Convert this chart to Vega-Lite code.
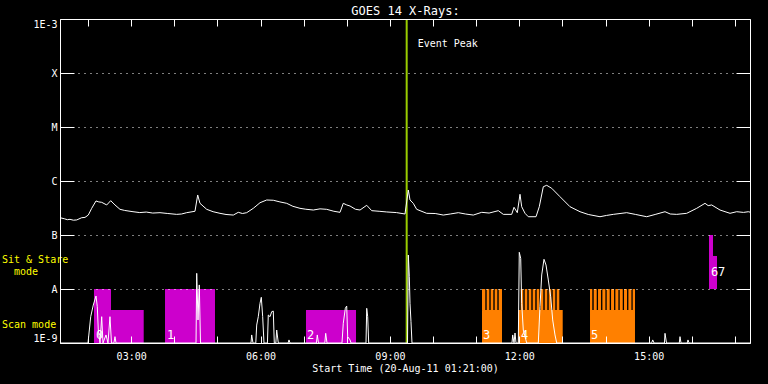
{
  "$schema": "https://vega.github.io/schema/vega-lite/v6.json",
  "width": 690,
  "height": 324,
  "autosize": {"type": "none"},
  "padding": {"left": 60, "top": 19, "right": 18, "bottom": 41},
  "background": "black",
  "config": {"view": {"stroke": null}},
  "resolve": {"axis": {"x": "independent", "y": "independent"}},
  "datasets": {
    "long": [
      {"h": 1.35, "flux": 2.09e-7}, {"h": 1.45, "flux": 2.0e-7}, {"h": 1.52, "flux": 1.92e-7}, {"h": 1.582, "flux": 1.95e-7}, {"h": 1.66, "flux": 1.88e-7}, {"h": 1.737, "flux": 1.9e-7},
      {"h": 1.853, "flux": 2.09e-7}, {"h": 1.93, "flux": 2.12e-7}, {"h": 2.006, "flux": 2.34e-7}, {"h": 2.085, "flux": 3.12e-7}, {"h": 2.185, "flux": 4.27e-7},
      {"h": 2.25, "flux": 4.1e-7}, {"h": 2.317, "flux": 4.03e-7}, {"h": 2.433, "flux": 3.6e-7}, {"h": 2.526, "flux": 4.32e-7}, {"h": 2.625, "flux": 3.6e-7},
      {"h": 2.741, "flux": 2.99e-7}, {"h": 2.85, "flux": 2.85e-7}, {"h": 3.043, "flux": 2.7e-7}, {"h": 3.2, "flux": 2.6e-7}, {"h": 3.35, "flux": 2.66e-7}, {"h": 3.5, "flux": 2.55e-7}, {"h": 3.669, "flux": 2.59e-7},
      {"h": 3.85, "flux": 2.5e-7}, {"h": 4.056, "flux": 2.41e-7}, {"h": 4.17, "flux": 2.45e-7}, {"h": 4.288, "flux": 2.59e-7}, {"h": 4.48, "flux": 2.75e-7}, {"h": 4.543, "flux": 5.51e-7},
      {"h": 4.596, "flux": 3.86e-7}, {"h": 4.752, "flux": 2.99e-7}, {"h": 4.9, "flux": 2.7e-7}, {"h": 5.06, "flux": 2.52e-7}, {"h": 5.2, "flux": 2.4e-7}, {"h": 5.369, "flux": 2.34e-7},
      {"h": 5.484, "flux": 2.63e-7}, {"h": 5.58, "flux": 2.5e-7}, {"h": 5.679, "flux": 2.59e-7}, {"h": 5.832, "flux": 3.12e-7},
      {"h": 5.988, "flux": 3.96e-7}, {"h": 6.143, "flux": 4.45e-7}, {"h": 6.296, "flux": 4.4e-7}, {"h": 6.45, "flux": 4.1e-7}, {"h": 6.607, "flux": 3.86e-7},
      {"h": 6.75, "flux": 3.4e-7}, {"h": 6.915, "flux": 3.12e-7}, {"h": 7.05, "flux": 3.0e-7}, {"h": 7.224, "flux": 2.9e-7}, {"h": 7.38, "flux": 3.05e-7}, {"h": 7.534, "flux": 2.99e-7}, {"h": 7.7, "flux": 2.75e-7}, {"h": 7.843, "flux": 2.63e-7},
      {"h": 7.919, "flux": 3.86e-7}, {"h": 8.0, "flux": 3.6e-7}, {"h": 8.075, "flux": 3.44e-7}, {"h": 8.2, "flux": 3.0e-7}, {"h": 8.307, "flux": 2.9e-7}, {"h": 8.462, "flux": 3.55e-7},
      {"h": 8.578, "flux": 2.82e-7}, {"h": 8.75, "flux": 2.75e-7}, {"h": 8.926, "flux": 2.67e-7}, {"h": 9.15, "flux": 2.6e-7}, {"h": 9.35, "flux": 2.45e-7}, {"h": 9.427, "flux": 6.81e-7},
      {"h": 9.466, "flux": 4.45e-7}, {"h": 9.542, "flux": 3.86e-7}, {"h": 9.621, "flux": 2.99e-7}, {"h": 9.853, "flux": 2.52e-7},
      {"h": 10.05, "flux": 2.5e-7}, {"h": 10.238, "flux": 2.34e-7}, {"h": 10.4, "flux": 2.45e-7}, {"h": 10.586, "flux": 2.59e-7}, {"h": 10.75, "flux": 2.45e-7}, {"h": 10.934, "flux": 2.34e-7}, {"h": 11.129, "flux": 2.63e-7},
      {"h": 11.3, "flux": 2.55e-7}, {"h": 11.514, "flux": 2.82e-7}, {"h": 11.63, "flux": 2.41e-7}, {"h": 11.824, "flux": 2.41e-7}, {"h": 11.878, "flux": 3.26e-7},
      {"h": 11.954, "flux": 2.59e-7}, {"h": 12.017, "flux": 5.67e-7}, {"h": 12.056, "flux": 3.34e-7}, {"h": 12.133, "flux": 2.52e-7},
      {"h": 12.209, "flux": 2.18e-7}, {"h": 12.388, "flux": 2.18e-7}, {"h": 12.464, "flux": 3.34e-7}, {"h": 12.557, "flux": 7.84e-7},
      {"h": 12.636, "flux": 8.32e-7}, {"h": 12.752, "flux": 7.33e-7}, {"h": 12.944, "flux": 5.12e-7}, {"h": 13.176, "flux": 3.34e-7},
      {"h": 13.408, "flux": 2.7e-7}, {"h": 13.6, "flux": 2.4e-7}, {"h": 13.872, "flux": 2.18e-7}, {"h": 14.02, "flux": 2.3e-7}, {"h": 14.18, "flux": 2.41e-7}, {"h": 14.491, "flux": 2.59e-7},
      {"h": 14.7, "flux": 2.4e-7}, {"h": 14.955, "flux": 2.18e-7}, {"h": 15.15, "flux": 2.4e-7}, {"h": 15.379, "flux": 2.7e-7}, {"h": 15.5, "flux": 2.45e-7}, {"h": 15.65, "flux": 2.41e-7}, {"h": 15.882, "flux": 2.52e-7},
      {"h": 16.114, "flux": 3.12e-7}, {"h": 16.307, "flux": 3.86e-7}, {"h": 16.38, "flux": 3.5e-7}, {"h": 16.462, "flux": 3.6e-7}, {"h": 16.655, "flux": 2.9e-7},
      {"h": 16.887, "flux": 2.52e-7}, {"h": 17.042, "flux": 2.7e-7}, {"h": 17.2, "flux": 2.62e-7}, {"h": 17.311, "flux": 2.7e-7}, {"h": 17.35, "flux": 2.65e-7}
    ],
    "short": [
      {"h": 1.35, "flux": 1e-9}, {"h": 1.999, "flux": 1e-9}, {"h": 2.062, "flux": 3.07e-9}, {"h": 2.122, "flux": 5.05e-9},
      {"h": 2.185, "flux": 7.41e-9}, {"h": 2.215, "flux": 4.7e-9}, {"h": 2.238, "flux": 1.74e-9}, {"h": 2.278, "flux": 1e-9},
      {"h": 2.317, "flux": 3.07e-9}, {"h": 2.347, "flux": 1e-9}, {"h": 2.417, "flux": 1.41e-9}, {"h": 2.463, "flux": 1e-9},
      {"h": 2.509, "flux": 3.07e-9}, {"h": 2.544, "flux": 1e-9}, {"h": 2.6, "flux": 1e-9}, {"h": 2.625, "flux": 1.31e-9},
      {"h": 2.649, "flux": 1e-9}, {"h": 4.504, "flux": 1e-9}, {"h": 4.52, "flux": 1.95e-8}, {"h": 4.55, "flux": 2.67e-9},
      {"h": 4.58, "flux": 1.19e-8}, {"h": 4.608, "flux": 1e-9}, {"h": 5.779, "flux": 1e-9}, {"h": 5.795, "flux": 1.41e-9},
      {"h": 5.825, "flux": 1e-9}, {"h": 5.89, "flux": 1e-9}, {"h": 5.911, "flux": 2.15e-9}, {"h": 5.948, "flux": 3.07e-9},
      {"h": 5.988, "flux": 5.43e-9}, {"h": 6.018, "flux": 7.02e-9}, {"h": 6.05, "flux": 3.07e-9}, {"h": 6.08, "flux": 1e-9},
      {"h": 6.16, "flux": 1e-9}, {"h": 6.18, "flux": 3.3e-9}, {"h": 6.22, "flux": 3.07e-9}, {"h": 6.259, "flux": 3.8e-9},
      {"h": 6.296, "flux": 3.9e-9}, {"h": 6.319, "flux": 1e-9}, {"h": 6.355, "flux": 1e-9}, {"h": 6.375, "flux": 1.74e-9},
      {"h": 6.412, "flux": 1e-9}, {"h": 6.64, "flux": 1e-9}, {"h": 6.66, "flux": 1.14e-9}, {"h": 6.683, "flux": 1e-9},
      {"h": 7.296, "flux": 1e-9}, {"h": 7.316, "flux": 1.41e-9}, {"h": 7.344, "flux": 1e-9}, {"h": 7.49, "flux": 1e-9},
      {"h": 7.511, "flux": 1.51e-9}, {"h": 7.541, "flux": 1e-9}, {"h": 7.889, "flux": 1e-9}, {"h": 7.919, "flux": 2.32e-9},
      {"h": 7.966, "flux": 4.39e-9}, {"h": 7.998, "flux": 4.84e-9}, {"h": 8.021, "flux": 1.31e-9}, {"h": 8.075, "flux": 1.14e-9},
      {"h": 8.098, "flux": 1e-9}, {"h": 8.446, "flux": 1e-9}, {"h": 8.462, "flux": 4.39e-9}, {"h": 8.485, "flux": 3.07e-9},
      {"h": 8.508, "flux": 1e-9}, {"h": 9.408, "flux": 1e-9}, {"h": 9.427, "flux": 4.26e-8}, {"h": 9.45, "flux": 1.69e-8},
      {"h": 9.466, "flux": 5.43e-9}, {"h": 9.489, "flux": 2.48e-9}, {"h": 9.512, "flux": 1e-9}, {"h": 11.831, "flux": 1e-9},
      {"h": 11.847, "flux": 1.41e-9}, {"h": 11.878, "flux": 1e-9}, {"h": 11.901, "flux": 1.53e-9}, {"h": 11.924, "flux": 1e-9},
      {"h": 11.977, "flux": 1e-9}, {"h": 12.0, "flux": 4.78e-8}, {"h": 12.033, "flux": 3.7e-8}, {"h": 12.056, "flux": 5.43e-9},
      {"h": 12.093, "flux": 1.74e-9}, {"h": 12.133, "flux": 1.31e-9}, {"h": 12.172, "flux": 1e-9}, {"h": 12.441, "flux": 1e-9},
      {"h": 12.48, "flux": 4.7e-9}, {"h": 12.52, "flux": 1.82e-8}, {"h": 12.573, "flux": 3.55e-8}, {"h": 12.62, "flux": 2.78e-8},
      {"h": 12.673, "flux": 1.47e-8}, {"h": 12.728, "flux": 7.2e-9}, {"h": 12.775, "flux": 2.67e-9}, {"h": 12.828, "flux": 1.41e-9},
      {"h": 12.868, "flux": 1e-9}, {"h": 15.07, "flux": 1e-9}, {"h": 15.094, "flux": 1.14e-9}, {"h": 15.124, "flux": 1e-9},
      {"h": 15.367, "flux": 1e-9}, {"h": 15.379, "flux": 1.51e-9}, {"h": 15.414, "flux": 1e-9}, {"h": 15.71, "flux": 1e-9},
      {"h": 15.727, "flux": 1.31e-9}, {"h": 15.75, "flux": 1e-9}, {"h": 15.895, "flux": 1e-9}, {"h": 15.912, "flux": 1.14e-9},
      {"h": 15.936, "flux": 1e-9}, {"h": 17.35, "flux": 1e-9}
    ],
    "modes": [
      {"start": 2.138, "end": 2.533, "lo": 1e-9, "hi": 1e-8, "set": "1"},
      {"start": 2.533, "end": 3.291, "lo": 1e-9, "hi": 4.08e-9, "set": "1"},
      {"start": 3.785, "end": 4.944, "lo": 1e-9, "hi": 1e-8, "set": "1"},
      {"start": 7.054, "end": 8.214, "lo": 1e-9, "hi": 4.08e-9, "set": "1"},
      {"start": 16.399, "end": 16.492, "lo": 1e-8, "hi": 1e-7, "set": "1"},
      {"start": 16.492, "end": 16.585, "lo": 1e-8, "hi": 4.08e-8, "set": "1"},
      {"start": 11.136, "end": 11.599, "lo": 1e-9, "hi": 4.08e-9, "set": "2"},
      {"start": 11.136, "end": 11.212, "lo": 4.08e-9, "hi": 1e-8, "set": "2"},
      {"start": 11.244, "end": 11.305, "lo": 4.08e-9, "hi": 1e-8, "set": "2"},
      {"start": 11.337, "end": 11.398, "lo": 4.08e-9, "hi": 1e-8, "set": "2"},
      {"start": 11.43, "end": 11.491, "lo": 4.08e-9, "hi": 1e-8, "set": "2"},
      {"start": 11.523, "end": 11.599, "lo": 4.08e-9, "hi": 1e-8, "set": "2"},
      {"start": 11.977, "end": 13.007, "lo": 1e-9, "hi": 4.08e-9, "set": "2"},
      {"start": 12.033, "end": 12.093, "lo": 4.08e-9, "hi": 1e-8, "set": "2"},
      {"start": 12.126, "end": 12.186, "lo": 4.08e-9, "hi": 1e-8, "set": "2"},
      {"start": 12.219, "end": 12.279, "lo": 4.08e-9, "hi": 1e-8, "set": "2"},
      {"start": 12.311, "end": 12.371, "lo": 4.08e-9, "hi": 1e-8, "set": "2"},
      {"start": 12.404, "end": 12.464, "lo": 4.08e-9, "hi": 1e-8, "set": "2"},
      {"start": 12.497, "end": 12.557, "lo": 4.08e-9, "hi": 1e-8, "set": "2"},
      {"start": 12.59, "end": 12.65, "lo": 4.08e-9, "hi": 1e-8, "set": "2"},
      {"start": 12.683, "end": 12.743, "lo": 4.08e-9, "hi": 1e-8, "set": "2"},
      {"start": 12.775, "end": 12.835, "lo": 4.08e-9, "hi": 1e-8, "set": "2"},
      {"start": 12.868, "end": 12.928, "lo": 4.08e-9, "hi": 1e-8, "set": "2"},
      {"start": 13.64, "end": 14.683, "lo": 1e-9, "hi": 4.08e-9, "set": "2"},
      {"start": 13.64, "end": 13.693, "lo": 4.08e-9, "hi": 1e-8, "set": "2"},
      {"start": 13.726, "end": 13.796, "lo": 4.08e-9, "hi": 1e-8, "set": "2"},
      {"start": 13.826, "end": 13.896, "lo": 4.08e-9, "hi": 1e-8, "set": "2"},
      {"start": 13.927, "end": 13.997, "lo": 4.08e-9, "hi": 1e-8, "set": "2"},
      {"start": 14.027, "end": 14.097, "lo": 4.08e-9, "hi": 1e-8, "set": "2"},
      {"start": 14.128, "end": 14.198, "lo": 4.08e-9, "hi": 1e-8, "set": "2"},
      {"start": 14.228, "end": 14.298, "lo": 4.08e-9, "hi": 1e-8, "set": "2"},
      {"start": 14.329, "end": 14.399, "lo": 4.08e-9, "hi": 1e-8, "set": "2"},
      {"start": 14.429, "end": 14.499, "lo": 4.08e-9, "hi": 1e-8, "set": "2"},
      {"start": 14.53, "end": 14.6, "lo": 4.08e-9, "hi": 1e-8, "set": "2"},
      {"start": 14.63, "end": 14.683, "lo": 4.08e-9, "hi": 1e-8, "set": "2"}
    ],
    "blocklabels": [
      {"h": 2.185, "flux": 1.2e-9, "text": "0"},
      {"h": 3.831, "flux": 1.2e-9, "text": "1"},
      {"h": 7.078, "flux": 1.2e-9, "text": "2"},
      {"h": 11.159, "flux": 1.2e-9, "text": "3"},
      {"h": 12.04, "flux": 1.2e-9, "text": "4"},
      {"h": 13.663, "flux": 1.2e-9, "text": "5"},
      {"h": 16.446, "flux": 1.74e-8, "text": "6"},
      {"h": 16.608, "flux": 1.74e-8, "text": "7"}
    ],
    "event": [{"h": 9.389, "flux": 3.07e-4, "text": "Event Peak"}],
    "side": [
      {"h": 1.35, "flux": 3.03e-8, "text": "Sit & Stare"},
      {"h": 1.35, "flux": 1.9e-9, "text": "Scan mode"}
    ],
    "side2": [
      {"h": 1.35, "flux": 1.82e-8, "text": "mode"}
    ]
  },
  "layer": [
    {
      "data": {"name": "modes"},
      "mark": {"type": "rect", "clip": true},
      "encoding": {
        "x": {"field": "start", "type": "quantitative", "scale": {"domain": [1.35, 17.35], "nice": false, "zero": false},
          "axis": {"orient": "bottom", "values": [2, 3, 4, 5, 6, 7, 8, 9, 10, 11, 12, 13, 14, 15, 16, 17],
            "labelExpr": "datum.value % 3 === 0 ? (datum.value < 10 ? '0' : '') + datum.value + ':00' : ''",
            "ticks": true, "tickSize": -7, "labelPadding": 15, "labelColor": "white", "labelFont": "DejaVu Sans Mono", "labelFontSize": 10,
            "domainColor": "white", "tickColor": "white", "grid": false, "zindex": 1, "labelOverlap": false,
            "title": "Start Time (20-Aug-11 01:21:00)", "titleColor": "white", "titleFont": "DejaVu Sans Mono", "titleFontSize": 10, "titleFontWeight": "normal", "titlePadding": 2,
            "encode": {"ticks": {"y2": {"value": {"expr": "datum.value % 3 === 0 ? -7 : -3.5"}}}}}},
        "x2": {"field": "end"},
        "y": {"field": "lo", "type": "quantitative", "scale": {"type": "log", "domain": [1e-9, 1e-3], "nice": false},
          "axis": {"orient": "left", "values": [1e-9, 1e-8, 1e-7, 1e-6, 1e-5, 1e-4, 1e-3],
            "labelExpr": "datum.value < 5e-9 ? '1E-9' : datum.value < 5e-8 ? 'A' : datum.value < 5e-7 ? 'B' : datum.value < 5e-6 ? 'C' : datum.value < 5e-5 ? 'M' : datum.value < 5e-4 ? 'X' : '1E-3'",
            "labelFlush": true, "labelPadding": 17, "ticks": true, "tickSize": -14, "labelColor": "white", "labelFont": "DejaVu Sans Mono", "labelFontSize": 10,
            "domainColor": "white", "tickColor": "white", "tickWidth": 1, "grid": true, "gridColor": "white", "gridDash": [1, 5], "gridOpacity": 1, "zindex": 1, "title": null}},
        "y2": {"field": "hi"},
        "color": {"field": "set", "type": "nominal", "scale": {"domain": ["1", "2"], "range": ["#cc00cc", "#ff8000"]}, "legend": null}
      }
    },
    {
      "data": {"name": "event"},
      "mark": {"type": "rule", "color": "#99cc00", "strokeWidth": 2},
      "encoding": {
        "x": {"field": "h", "type": "quantitative", "axis": null}
      }
    },
    {
      "data": {"name": "short"},
      "mark": {"type": "line", "clip": true, "color": "white", "strokeWidth": 1},
      "encoding": {
        "x": {"field": "h", "type": "quantitative", "axis": null},
        "y": {"field": "flux", "type": "quantitative", "axis": null}
      }
    },
    {
      "data": {"name": "long"},
      "mark": {"type": "line", "clip": true, "color": "white", "strokeWidth": 1},
      "encoding": {
        "x": {"field": "h", "type": "quantitative",
          "axis": {"orient": "top", "values": [2, 3, 4, 5, 6, 7, 8, 9, 10, 11, 12, 13, 14, 15, 16, 17], "labels": false, "ticks": true, "tickSize": -7,
            "domainColor": "white", "tickColor": "white", "grid": false, "zindex": 1,
            "title": "GOES 14 X-Rays:", "titleColor": "white", "titleFont": "DejaVu Sans Mono", "titleFontSize": 12, "titleFontWeight": "normal",
            "titleBaseline": "alphabetic", "titleY": -5, "titleAnchor": "middle",
            "encode": {"ticks": {"y2": {"value": {"expr": "datum.value % 3 === 0 ? 7 : 3.5"}}}}}},
        "y": {"field": "flux", "type": "quantitative",
          "axis": {"orient": "right", "values": [1e-9, 1e-8, 1e-7, 1e-6, 1e-5, 1e-4, 1e-3], "labels": false, "ticks": true, "tickSize": -14,
            "domainColor": "white", "tickColor": "white", "tickWidth": 1, "grid": false, "zindex": 1, "title": null}}
      }
    },
    {
      "data": {"name": "blocklabels"},
      "mark": {"type": "text", "align": "left", "baseline": "alphabetic", "color": "white", "font": "DejaVu Sans Mono", "fontSize": 12},
      "encoding": {
        "x": {"field": "h", "type": "quantitative", "axis": null},
        "y": {"field": "flux", "type": "quantitative", "axis": null},
        "text": {"field": "text"}
      }
    },
    {
      "data": {"name": "event"},
      "mark": {"type": "text", "align": "left", "baseline": "alphabetic", "dx": 11, "color": "white", "font": "DejaVu Sans Mono", "fontSize": 10},
      "encoding": {
        "x": {"field": "h", "type": "quantitative", "axis": null},
        "y": {"field": "flux", "type": "quantitative", "axis": null},
        "text": {"field": "text"}
      }
    },
    {
      "data": {"name": "side"},
      "mark": {"type": "text", "align": "left", "baseline": "alphabetic", "dx": -58, "color": "#ffff00", "font": "DejaVu Sans Mono", "fontSize": 10},
      "encoding": {
        "x": {"field": "h", "type": "quantitative", "axis": null},
        "y": {"field": "flux", "type": "quantitative", "axis": null},
        "text": {"field": "text"}
      }
    },
    {
      "data": {"name": "side2"},
      "mark": {"type": "text", "align": "left", "baseline": "alphabetic", "dx": -46, "color": "#ffff00", "font": "DejaVu Sans Mono", "fontSize": 10},
      "encoding": {
        "x": {"field": "h", "type": "quantitative", "axis": null},
        "y": {"field": "flux", "type": "quantitative", "axis": null},
        "text": {"field": "text"}
      }
    }
  ]
}
